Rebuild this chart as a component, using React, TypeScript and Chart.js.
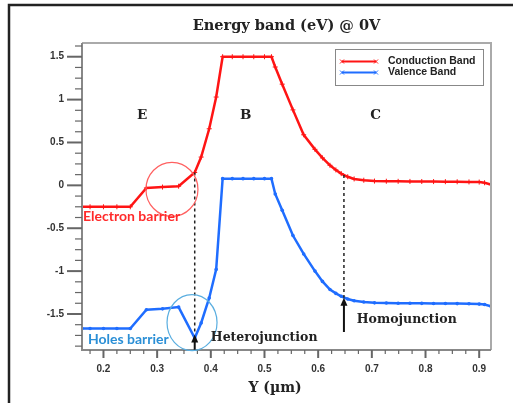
import React, { useEffect, useRef } from 'react';
import { Chart, registerables } from 'chart.js';

Chart.register(...registerables);

const TITLE = 'Energy band (eV) @ 0V';
const X_TITLE = 'Y (µm)';
const SERIES_NAMES = ['Conduction Band', 'Valence Band'];

const POSITIONS = [0.16, 0.175, 0.2, 0.225, 0.25, 0.28, 0.31, 0.34, 0.37, 0.382, 0.397, 0.41, 0.422, 0.44, 0.46, 0.48, 0.5, 0.513, 0.52, 0.533, 0.553, 0.573, 0.594, 0.608, 0.622, 0.633, 0.643, 0.655, 0.667, 0.685, 0.705, 0.727, 0.749, 0.771, 0.793, 0.815, 0.837, 0.859, 0.881, 0.9, 0.91, 0.922];
const CONDUCTION = [-0.25, -0.25, -0.25, -0.25, -0.25, -0.03, -0.02, -0.01, 0.15, 0.33, 0.66, 1.03, 1.5, 1.5, 1.5, 1.5, 1.5, 1.5, 1.38, 1.18, 0.88, 0.59, 0.42, 0.32, 0.234, 0.18, 0.137, 0.1, 0.075, 0.06, 0.05, 0.048, 0.047, 0.046, 0.045, 0.044, 0.043, 0.042, 0.04, 0.038, 0.03, 0.008];
const VALENCE = [-1.67, -1.67, -1.67, -1.67, -1.67, -1.45, -1.44, -1.42, -1.78, -1.605, -1.313, -0.98, 0.078, 0.078, 0.078, 0.078, 0.078, 0.078, -0.1, -0.29, -0.585, -0.8, -1.0, -1.12, -1.215, -1.26, -1.294, -1.325, -1.345, -1.36, -1.37, -1.372, -1.374, -1.375, -1.376, -1.377, -1.378, -1.379, -1.38, -1.385, -1.39, -1.41];

const X_TICKS = [0.2, 0.3, 0.4, 0.5, 0.6, 0.7, 0.8, 0.9];
const X_TICK_LABELS = ['0.2', '0.3', '0.4', '0.5', '0.6', '0.7', '0.8', '0.9'];
const Y_TICKS = [-1.5, -1, -0.5, 0, 0.5, 1, 1.5];
const Y_TICK_LABELS = ['-1.5', '-1', '-0.5', '0', '0.5', '1', '1.5'];
const REGION_LABELS = ['E', 'B', 'C'];

const X_MIN = 0.16, X_MAX = 0.922, Y_MIN = -1.92, Y_MAX = 1.66;

const RED = '#ff1414';
const BLUE = '#1f6dff';

const overlay = {
  id: 'overlay',
  beforeDraw(chart: any) {
    const ctx = chart.ctx;
    ctx.save();
    ctx.fillStyle = '#fff';
    ctx.fillRect(0, 0, chart.width, chart.height);
    ctx.restore();
  },
  afterDraw(chart: any) {
    const ctx = chart.ctx;
    const xs = chart.scales.x, ys = chart.scales.y;
    const X = (v: number) => xs.getPixelForValue(v);
    const Y = (v: number) => ys.getPixelForValue(v);
    const { left, right, top, bottom } = chart.chartArea;
    ctx.save();

    // outer frame
    ctx.strokeStyle = '#222';
    ctx.lineWidth = 2.5;
    ctx.strokeRect(9, 5, 530, 420);

    // plot border
    ctx.strokeStyle = '#aaa';
    ctx.lineWidth = 2;
    ctx.beginPath();
    ctx.moveTo(left, top); ctx.lineTo(right, top); ctx.lineTo(right, bottom);
    ctx.stroke();
    ctx.strokeStyle = '#888';
    ctx.beginPath();
    ctx.moveTo(left, top); ctx.lineTo(left, bottom); ctx.lineTo(right, bottom);
    ctx.stroke();

    // ticks
    ctx.strokeStyle = '#666';
    for (let i = 0; i <= 28; i++) {
      const v = -1.875 + i * 0.125;
      if (v > Y_MAX || v < Y_MIN) continue;
      const major = Y_TICKS.some(t => Math.abs(t - v) < 1e-6);
      ctx.lineWidth = major ? 2 : 1.2;
      ctx.beginPath();
      ctx.moveTo(left - (major ? 15 : 7), Y(v));
      ctx.lineTo(left, Y(v));
      ctx.stroke();
    }
    for (let i = 0; i <= 40; i++) {
      const v = 0.175 + i * 0.025;
      if (v > X_MAX || v < X_MIN) continue;
      const major = X_TICKS.some(t => Math.abs(t - v) < 1e-6);
      ctx.lineWidth = major ? 2 : 1.2;
      ctx.beginPath();
      ctx.moveTo(X(v), bottom);
      ctx.lineTo(X(v), bottom + (major ? 8 : 4));
      ctx.stroke();
    }

    // title
    ctx.fillStyle = '#222';
    ctx.textAlign = 'center';
    ctx.textBaseline = 'middle';
    ctx.font = 'bold 14.5px "DejaVu Serif"';
    ctx.fillText(TITLE, (left + right) / 2, 26);
    ctx.font = 'bold 14px "DejaVu Serif"';
    ctx.fillText(X_TITLE, 275, 388);

    // region labels
    ctx.font = 'bold 13.5px "DejaVu Serif"';
    const regionX = [0.272, 0.465, 0.707];
    REGION_LABELS.forEach((t, i) => ctx.fillText(t, X(regionX[i]), Y(0.81)));

    // dashed lines
    ctx.strokeStyle = '#222';
    ctx.lineWidth = 1.5;
    ctx.setLineDash([3, 3]);
    ctx.beginPath();
    ctx.moveTo(X(0.37), Y(0.15)); ctx.lineTo(X(0.37), Y(-1.74));
    ctx.moveTo(X(0.648), Y(0.12)); ctx.lineTo(X(0.648), Y(-1.31));
    ctx.stroke();
    ctx.setLineDash([]);

    const arrow = (x: number, yTip: number, yEnd: number) => {
      ctx.strokeStyle = '#111';
      ctx.fillStyle = '#111';
      ctx.lineWidth = 2;
      ctx.beginPath();
      ctx.moveTo(x, yTip + 6); ctx.lineTo(x, yEnd);
      ctx.stroke();
      ctx.beginPath();
      ctx.moveTo(x, yTip); ctx.lineTo(x - 3.5, yTip + 8); ctx.lineTo(x + 3.5, yTip + 8);
      ctx.closePath();
      ctx.fill();
    };
    arrow(X(0.37), Y(-1.74), bottom);
    arrow(X(0.648), Y(-1.31), Y(-1.71));

    // circles
    ctx.lineWidth = 1.2;
    ctx.strokeStyle = '#ff6060';
    ctx.beginPath();
    ctx.ellipse(X(0.3276), Y(-0.047), 26, 27, 0, 0, Math.PI * 2);
    ctx.stroke();
    ctx.strokeStyle = '#5aaee0';
    ctx.beginPath();
    ctx.ellipse(X(0.365), Y(-1.6), 25, 28, 0, 0, Math.PI * 2);
    ctx.stroke();

    // text annotations
    ctx.textAlign = 'left';
    ctx.font = 'bold 14px Lato';
    ctx.fillStyle = '#ff2a2a';
    ctx.fillText('Electron barrier', X(0.162), Y(-0.363));
    ctx.fillStyle = '#2b8fd6';
    ctx.fillText('Holes barrier', X(0.171), Y(-1.8));
    ctx.fillStyle = '#222';
    ctx.font = 'bold 12.5px "DejaVu Serif"';
    ctx.fillText('Heterojunction', X(0.40), Y(-1.78));
    ctx.fillText('Homojunction', X(0.672), Y(-1.567));

    // legend
    ctx.fillStyle = '#fff';
    ctx.fillRect(335, 49, 149, 37);
    ctx.strokeStyle = '#888';
    ctx.lineWidth = 1;
    ctx.strokeRect(335.5, 49.5, 148, 36);
    const colors = [RED, BLUE];
    SERIES_NAMES.forEach((name, i) => {
      const y = 61.5 + i * 11;
      ctx.strokeStyle = colors[i];
      ctx.lineWidth = 2;
      ctx.beginPath();
      ctx.moveTo(342, y); ctx.lineTo(376, y);
      ctx.stroke();
      ctx.lineWidth = 1;
      [342, 376].forEach(px => {
        ctx.beginPath();
        ctx.moveTo(px - 2, y - 2); ctx.lineTo(px + 2, y + 2);
        ctx.moveTo(px - 2, y + 2); ctx.lineTo(px + 2, y - 2);
        ctx.stroke();
      });
      ctx.fillStyle = '#222';
      ctx.font = 'bold 10.5px "Liberation Sans"';
      ctx.textAlign = 'left';
      ctx.textBaseline = 'middle';
      ctx.fillText(name, 388, y);
    });

    ctx.restore();
  },
};

export default function App() {
  const ref = useRef<HTMLCanvasElement>(null);
  useEffect(() => {
    document.body.style.margin = '0';
    const canvas = ref.current!;
    const chart = new Chart(canvas, {
      type: 'line',
      data: {
        datasets: [
          {
            label: SERIES_NAMES[0],
            data: POSITIONS.map((x, i) => ({ x, y: CONDUCTION[i] })),
            borderColor: RED,
            backgroundColor: RED,
            borderWidth: 2.5,
            pointStyle: 'cross',
            pointRadius: 2.5,
            pointBorderWidth: 1,
            tension: 0,
          },
          {
            label: SERIES_NAMES[1],
            data: POSITIONS.map((x, i) => ({ x, y: VALENCE[i] })),
            borderColor: BLUE,
            backgroundColor: BLUE,
            borderWidth: 2.5,
            pointStyle: 'circle',
            pointRadius: 1.8,
            pointBorderWidth: 0,
            tension: 0,
          },
        ],
      },
      options: {
        responsive: false,
        animation: false,
        layout: { padding: { left: 0, right: 22, top: 43, bottom: 0 } },
        plugins: { legend: { display: false }, title: { display: false }, tooltip: { enabled: false } },
        scales: {
          x: {
            type: 'linear',
            min: X_MIN,
            max: X_MAX,
            grid: { display: false, drawTicks: false },
            border: { display: false },
            afterFit: (s: any) => { s.height = 53; },
            afterBuildTicks: (s: any) => { s.ticks = X_TICKS.map(v => ({ value: v })); },
            ticks: {
              padding: 13,
              color: '#333',
              font: { family: 'Liberation Sans', weight: 'bold', size: 10 },
              maxRotation: 0,
              autoSkip: false,
              callback: (v: any) => X_TICK_LABELS[X_TICKS.findIndex(t => Math.abs(t - v) < 1e-6)] ?? '',
            },
          },
          y: {
            type: 'linear',
            min: Y_MIN,
            max: Y_MAX,
            grid: { display: false, drawTicks: false },
            border: { display: false },
            afterFit: (s: any) => { s.width = 82; },
            afterBuildTicks: (s: any) => { s.ticks = Y_TICKS.map(v => ({ value: v })); },
            ticks: {
              padding: 18,
              color: '#333',
              font: { family: 'Liberation Sans', weight: 'bold', size: 10 },
              autoSkip: false,
              callback: (v: any) => Y_TICK_LABELS[Y_TICKS.findIndex(t => Math.abs(t - v) < 1e-6)] ?? '',
            },
          },
        },
      },
      plugins: [overlay],
    } as any);
    return () => chart.destroy();
  }, []);
  return (
    <div style={{ width: 513, height: 403 }}>
      <canvas ref={ref} width={513} height={403} />
    </div>
  );
}
